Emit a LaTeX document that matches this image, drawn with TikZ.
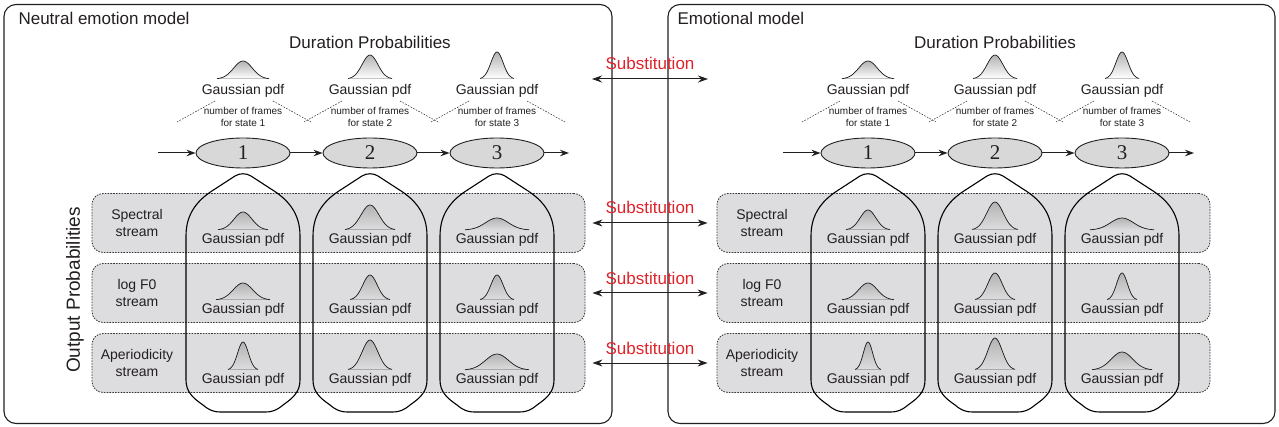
\documentclass[tikz,border=0pt]{standalone}
\usepackage{fontspec}
\setmainfont{Liberation Sans}
\newfontfamily\statefont{Liberation Serif}
\usetikzlibrary{arrows.meta, shapes.geometric}

\definecolor{subred}{RGB}{222,35,42}
\definecolor{streamgray}{RGB}{221,221,223}
\definecolor{stategray}{RGB}{216,216,216}
\definecolor{inkgray}{RGB}{35,31,32}

% bump of a pdf: centre x, base y, half width, height, colour under it
\newcommand{\pdfbump}[5]{%
  \fill[top color=gray!60, bottom color=#5] plot[domain=-2.8:2.8, samples=31] ({#1+#3*\x/2.8},{#2-#4*exp(-\x*\x/2)}) -- cycle;
  \draw[curve] plot[domain=-2.8:2.8, samples=31] ({#1+#3*\x/2.8},{#2-#4*exp(-\x*\x/2)});
}
% outline that groups the output pdfs of one state
\newcommand{\statecolumn}[1]{%
  \draw[column] ({#1-57},380) -- ({#1-57},236) .. controls ({#1-57},214) and ({#1-46},200) .. ({#1-28},189) -- ({#1-8},176) .. controls ({#1-3},173) and ({#1+3},173) .. ({#1+8},176) -- ({#1+28},189) .. controls ({#1+46},200) and ({#1+57},214) .. ({#1+57},236) -- ({#1+57},380) .. controls ({#1+57},392) and ({#1+50},398) .. ({#1+40},405) .. controls ({#1+34},410) and ({#1+30},412) .. ({#1+22},412) -- ({#1-22},412) .. controls ({#1-30},412) and ({#1-34},410) .. ({#1-40},405) .. controls ({#1-50},398) and ({#1-57},392) .. ({#1-57},380) -- cycle;
}

\begin{document}
\begin{tikzpicture}[x=1pt, y=-1pt, text=inkgray, font=\fontsize{14}{17}\selectfont,
    modelbox/.style={draw=inkgray, line width=1.1pt, rounded corners=12pt, inner sep=0pt, minimum height=419pt},
    modeltitle/.style={anchor=west, font=\fontsize{17}{20}\selectfont},
    headline/.style={font=\fontsize{17}{20}\selectfont},
    statenode/.style={ellipse, draw=inkgray, line width=0.9pt, fill=stategray, minimum width=94pt, minimum height=30pt, inner sep=0pt, font=\statefont\fontsize{21}{24}\selectfont},
    flow/.style={draw=inkgray, line width=1pt, -{Stealth[length=9pt, width=6.5pt]}},
    tent/.style={draw=inkgray, line width=0.5pt, dash pattern=on 1.6pt off 1.4pt},
    frames/.style={align=center, font=\fontsize{10}{11.5}\selectfont},
    streambox/.style={draw=inkgray!90, line width=0.8pt, dash pattern=on 1.6pt off 1.2pt, fill=streamgray, rounded corners=11pt, minimum width=493pt, minimum height=59pt, inner sep=0pt},
    column/.style={draw=black, line width=1.1pt},
    curve/.style={draw=inkgray, line width=0.7pt},
    subarrow/.style={draw=inkgray, line width=1pt, {Stealth[length=10pt, width=7pt]}-{Stealth[length=10pt, width=7pt]}},
    subtext/.style={above=5pt, text=subred, font=\fontsize{17}{20}\selectfont}]
  \useasboundingbox (0,0) rectangle (1279,427);

  % the two models
  \node[modelbox, minimum width=608pt] (neutral) at (308,214) {};
  \node[modelbox, minimum width=607pt] (emotional) at (971.5,214) {};
  \node[modeltitle] (neutral-title) at (15,18) {Neutral emotion model};
  \node[modeltitle] (emotional-title) at (674,18) {Emotional model};
  \node[rotate=90, font=\fontsize{19}{22}\selectfont] (outprob) at (75,290) {Output Probabilities};

  \foreach \m/\off in {l/0, r/625} {
    % duration part
    \node[headline] (\m-dur) at (370+\off,42) {Duration Probabilities};
    \coordinate (\m-in) at (158+\off,153);
    \coordinate (\m-out) at (569+\off,153);
    \foreach \s/\w/\h in {1/26/18, 2/22/24, 3/17/27} {
      \pdfbump{116+127*\s+\off}{79}{\w}{\h}{white}
      \node (\m-dp\s) at (116+127*\s+\off,91) {Gaussian pdf};
      \draw[tent] (88+127*\s+\off,101) -- (50+127*\s+\off,122)
                  (146+127*\s+\off,101) -- (184+127*\s+\off,122);
      \node[frames] (\m-nf\s) at (116+127*\s+\off,117) {number of frames\\for state \s};
      \node[statenode] (\m-q\s) at (116+127*\s+\off,153) {\s};
    }
    \draw[flow] (\m-in) -- (\m-q1);
    \draw[flow] (\m-q1) -- (\m-q2);
    \draw[flow] (\m-q2) -- (\m-q3);
    \draw[flow] (\m-q3) -- (\m-out);

    % output part
    \foreach \r/\ry/\lab in {1/223/{Spectral\\stream}, 2/293/{log F0\\stream}, 3/363/{Aperiodicity\\stream}} {
      \node[streambox] (\m-s\r) at (338.5+\off,\ry) {};
      \node[align=center] (\m-sl\r) at (137+\off,\ry) {\lab};
    }
    \foreach \s in {1,2,3} {
      \statecolumn{116+127*\s+\off}
    }
  }

  % output pdfs: model, row, state, half width, height
  \foreach \m/\off/\r/\ry/\s/\w/\h in {
      l/0/1/223/1/25/18, l/0/1/223/2/25/25, l/0/1/223/3/32/12,
      l/0/2/293/1/27/17, l/0/2/293/2/20/25, l/0/2/293/3/17/25,
      l/0/3/363/1/15/28, l/0/3/363/2/22/30, l/0/3/363/3/32/16,
      r/625/1/223/1/22/20, r/625/1/223/2/23/28, r/625/1/223/3/32/12,
      r/625/2/293/1/26/17, r/625/2/293/2/20/27, r/625/2/293/3/15/27,
      r/625/3/363/1/13/28, r/625/3/363/2/20/32, r/625/3/363/3/30/18} {
    \pdfbump{116+127*\s+\off}{\ry+7}{\w}{\h}{streamgray}
    \node (\m-g\r\s) at (116+127*\s+\off,\ry+17) {Gaussian pdf};
  }

  % substitutions between the models
  \coordinate (subL) at (592,79);
  \coordinate (subR) at (708,79);
  \draw[subarrow] (subL) -- (subR) node[midway, subtext] {Substitution};
  \foreach \r in {1,2,3}
    \draw[subarrow] ([xshift=7pt]l-s\r.east) -- ([xshift=-9pt]r-s\r.west) node[midway, subtext] {Substitution};
\end{tikzpicture}
\end{document}
